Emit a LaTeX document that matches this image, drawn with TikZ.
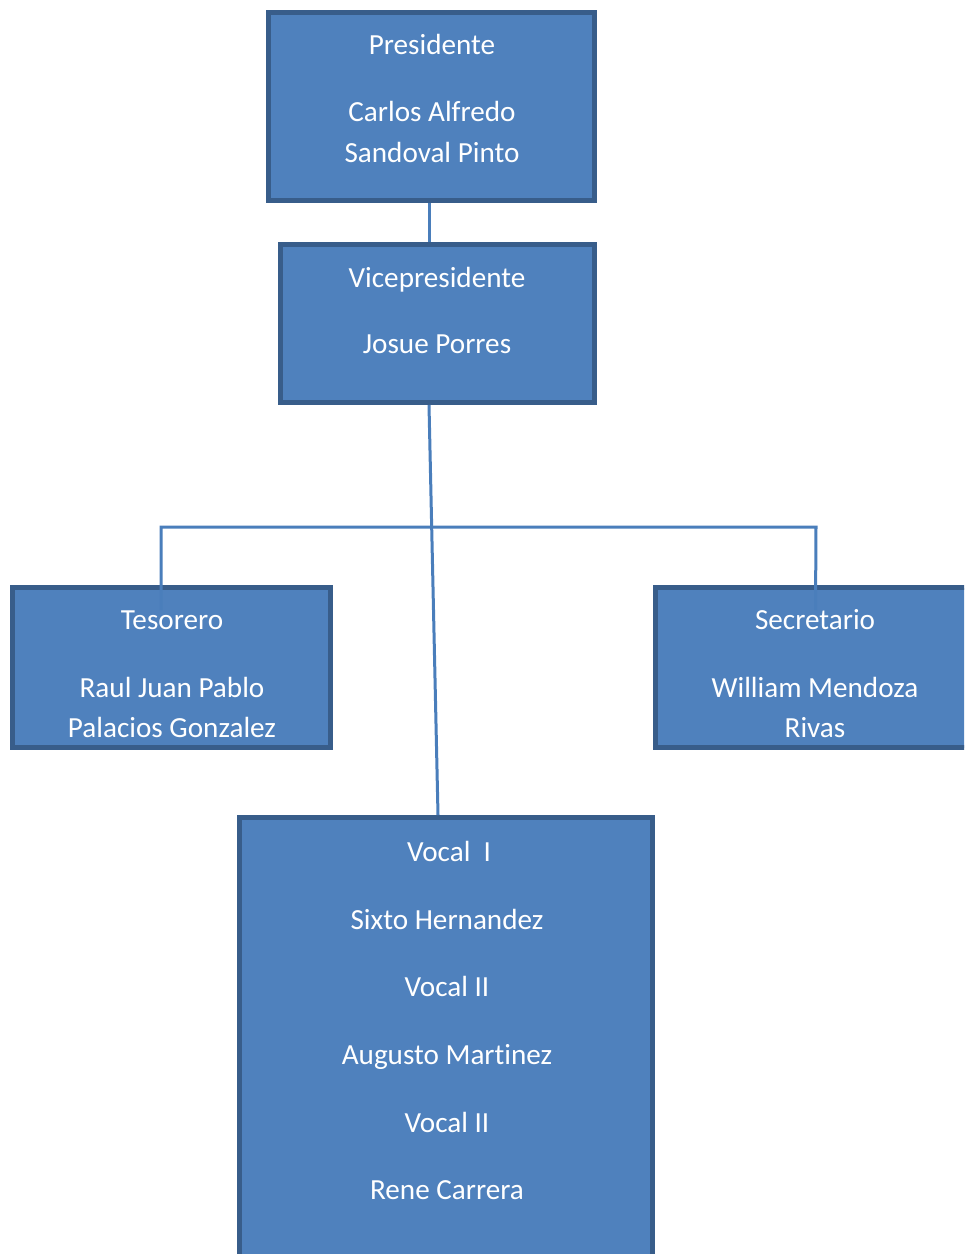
\documentclass[tikz,border=0pt]{standalone}
\usepackage{fontspec}
\setmainfont{Carlito}[Ligatures=NoCommon]
\usepackage{tikz}
\usetikzlibrary{positioning}
\definecolor{cajaazul}{RGB}{79,129,189}
\definecolor{bordeazul}{RGB}{56,93,138}
\definecolor{lineaazul}{RGB}{74,126,187}
\newlength{\px}
\setlength{\px}{0.02cm}
\tikzset{
  cargo/.style={rectangle, draw=bordeazul, fill=cajaazul, line width=5\px, inner sep=0pt},
  nombre/.style={text=white, anchor=base, inner sep=0pt, font=\fontsize{16.6}{20}\selectfont},
  linea/.style={draw=lineaazul, line width=3\px}
}

\begin{document}
\begin{tikzpicture}[line cap=butt,line join=miter, x=0.02cm,y=-0.02cm]
	\useasboundingbox (0,0) rectangle (964,1254);
	\clip (0,0) rectangle (964,1254);
	% cajas
	\node[cargo, minimum width=326\px, minimum height=188\px] (pres) at (431.5,106.5) {};
	\node[cargo, minimum width=314\px, minimum height=158\px] (vice) at (437.5,323.5) {};
	\node[cargo, minimum width=318\px, minimum height=160\px] (teso) at (171.5,667.5) {};
	\node[cargo, minimum width=320\px, minimum height=160\px] (secr) at (815.5,667.5) {};
	\node[cargo, minimum width=413\px, minimum height=455\px] (vocal) at (446,1045) {};
	% lineas
	\coordinate (bus) at (816,527);
	\draw[linea] ([xshift=-2.5\px]pres.south) -- ([xshift=-2.5\px]pres.south |- vice.north);
	\draw[linea] ([xshift=-8.5\px]vice.south) -- ([xshift=-8\px]vocal.north);
	\draw[linea] ([xshift=-10.5\px,yshift=-25\px]teso.north) |- (bus) -- ([yshift=-25\px]secr.north);
	% textos
	\node[nombre] (pres-1) at (432,54) {Presidente};
	\node[nombre] (pres-2) at (432,121) {Carlos Alfredo};
	\node[nombre] (pres-3) at (432,162) {Sandoval Pinto};
	\node[nombre] (vice-1) at (437,287) {Vicepresidente};
	\node[nombre] (vice-2) at (437,353) {Josue Porres};
	\node[nombre] (teso-1) at (172,629) {Tesorero};
	\node[nombre] (teso-2) at (172,697) {Raul Juan Pablo};
	\node[nombre] (teso-3) at (172,737) {Palacios Gonzalez};
	\node[nombre] (secr-1) at (815,629) {Secretario};
	\node[nombre] (secr-2) at (815,697) {William Mendoza};
	\node[nombre] (secr-3) at (815,737) {Rivas};
	\foreach \t/\xx [count=\i] in {Vocal~~I/449, Sixto Hernandez/447, Vocal II/447, Augusto Martinez/447, Vocal II/447, Rene Carrera/447}
	\node[nombre] (vocal-\i) at (\xx,{794+67.6*\i}) {\t};
\end{tikzpicture}
\end{document}
